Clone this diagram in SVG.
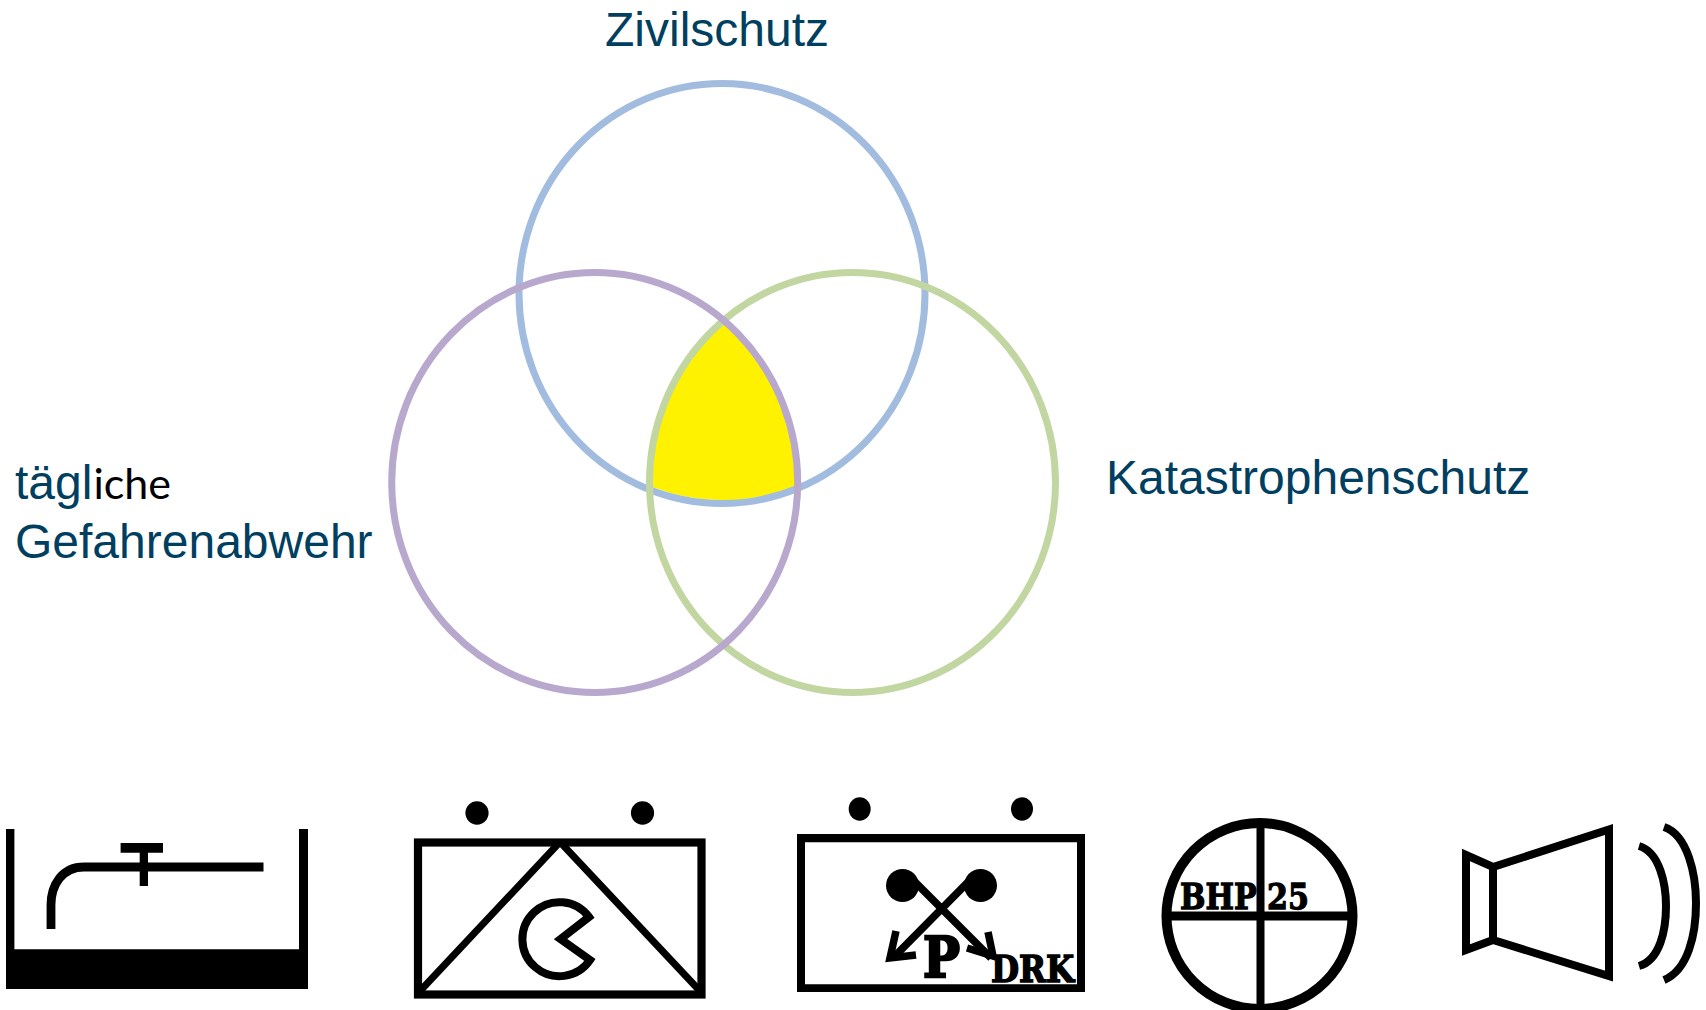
<svg xmlns="http://www.w3.org/2000/svg" width="1706" height="1010" viewBox="0 0 1706 1010">
<style>
.ring{fill:none;stroke-width:7}
.lab{font-family:"Liberation Sans",Arial,sans-serif;font-size:48px;fill:#003f5f}
.k{fill:#000;stroke:none}
.o{fill:none;stroke:#000}
.sl{font-family:"DejaVu Serif",serif;font-weight:700;fill:#000;stroke:#000}
</style>
<rect width="1706" height="1010" fill="#fff"/>
<g id="venn">
<path id="overlap" d="M723.6,324A200 207 0 0 0 652.5,487A200 207 0 0 0 796,486A200 207 0 0 0 723.6,324Z" fill="#fff200"/>
<ellipse class="ring" cx="722" cy="293.5" rx="203" ry="210" stroke="#a2bcdf"/>
<ellipse class="ring" cx="852.5" cy="482.5" rx="203" ry="210" stroke="#c2d6a2"/>
<ellipse class="ring" cx="594.7" cy="482.5" rx="203" ry="210" stroke="#b8a8cd"/>
</g>
<g id="labels">
<text class="lab" x="605" y="46">Zivilschutz</text>
<text class="lab" x="1106" y="494">Katastrophenschutz</text>
<text class="lab" x="15" y="499">tägl<tspan font-family="Lato,sans-serif" font-size="43" fill="#000" dx="1">iche</tspan></text>
<text class="lab" x="15" y="558">Gefahrenabwehr</text>
</g>
<g id="symbol-tank">
<path class="k" d="M6,829H14.4V949.3H299V829H308V989H6Z"/>
<path class="o" stroke-width="8.8" d="M51,929V905C51,885 62,867 84,867H263.5"/>
<path class="k" d="M120.6,843H163V852.7H148V886H139.7V852.7H120.6Z"/>
</g>
<g id="symbol-triangle">
<ellipse class="k" cx="477" cy="813" rx="11.6" ry="11.7"/>
<ellipse class="k" cx="642.5" cy="813" rx="11.6" ry="11.7"/>
<rect class="o" stroke-width="8.2" x="418" y="842.5" width="283.5" height="152"/>
<path class="o" stroke-width="7" d="M421,990L559,843M699,990L561,843"/>
<path class="o" stroke-width="8" stroke-miterlimit="8" d="M589,917L560.5,939L590,960A37 37 0 1 1 589,917Z"/>
</g>
<g id="symbol-drk">
<ellipse class="k" cx="859.7" cy="809" rx="11" ry="11.7"/>
<ellipse class="k" cx="1022" cy="809" rx="11" ry="11.7"/>
<path class="k" d="M797,834H1085V992H797ZM805,842.3V984.3H1077V842.3Z" fill-rule="evenodd"/>
<circle class="k" cx="902.5" cy="885.5" r="16.5"/>
<circle class="k" cx="980.5" cy="885.5" r="16.5"/>
<path class="o" stroke-width="7.5" d="M908,875L991,958M975,875L893,958"/>
<path class="o" stroke-width="7.5" d="M896,931L890,958L916,955M988,932L993,956L967,948"/>
<text class="sl" x="923" y="977" font-size="56" stroke-width="2.5" textLength="37" lengthAdjust="spacingAndGlyphs">P</text>
<text class="sl" x="991" y="981.5" font-size="37" stroke-width="1.5" textLength="83" lengthAdjust="spacingAndGlyphs">DRK</text>
</g>
<g id="symbol-bhp">
<circle class="o" stroke-width="10" cx="1259.5" cy="916" r="93"/>
<path class="o" stroke-width="8" d="M1260.5,820V1010"/>
<path class="o" stroke-width="9" d="M1166,916H1353"/>
<text class="sl" x="1180" y="909" font-size="36" stroke-width="1.3" textLength="129" lengthAdjust="spacingAndGlyphs">BHP 25</text>
</g>
<g id="symbol-speaker">
<path class="o" stroke-width="8" d="M1466,855L1493,867L1609,829.5V976L1493,940L1466,950ZM1493,867V940"/>
<path class="o" stroke-width="8" d="M1639,846C1660,852 1666,885 1666,906C1666,930 1660,960 1639,966M1664,827C1688,835 1696,875 1696,903C1696,935 1688,970 1664,980"/>
</g>
</svg>
